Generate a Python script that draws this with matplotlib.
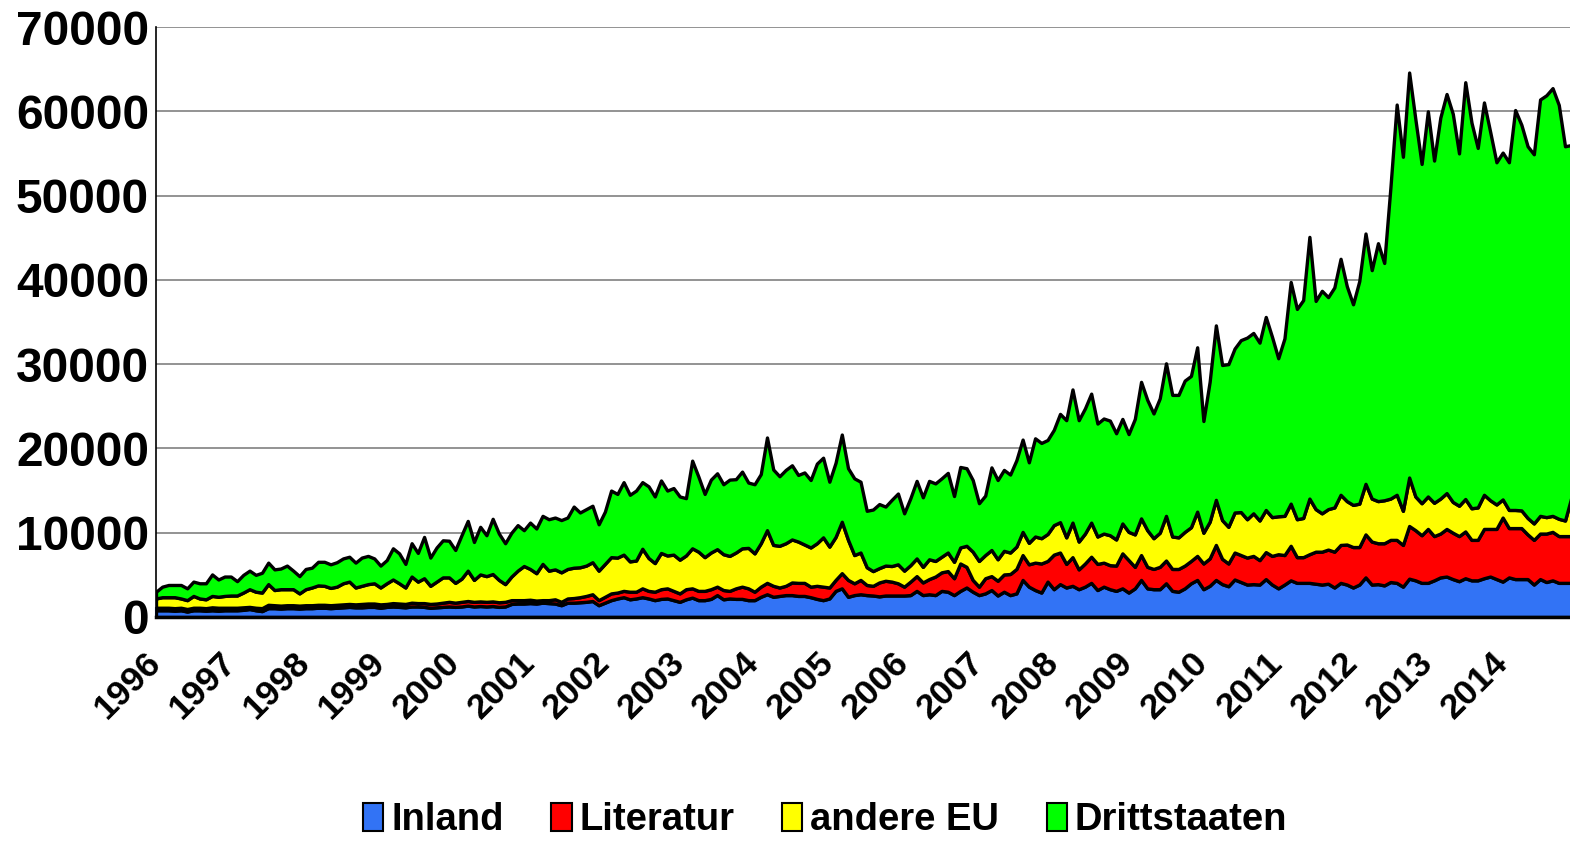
import numpy as np
import matplotlib
matplotlib.use("Agg")
import matplotlib.pyplot as plt
import matplotlib.transforms as mtransforms
from matplotlib.patches import Patch
from matplotlib.ticker import MultipleLocator

# Monatswerte Jan 1996 - Dez 2014, je Zeile ein Jahr
inland = [
    800, 800, 800, 750, 800, 650, 800, 800, 750, 800, 750, 800,
    800, 800, 850, 950, 800, 700, 1050, 1050, 1000, 1050, 1050, 1000,
    1050, 1050, 1100, 1100, 1050, 1100, 1150, 1200, 1150, 1150, 1200, 1200,
    1100, 1200, 1250, 1200, 1150, 1250, 1250, 1200, 1100, 1150, 1200, 1250,
    1200, 1250, 1350, 1250, 1300, 1250, 1300, 1200, 1250, 1550, 1600, 1600,
    1650, 1600, 1700, 1650, 1600, 1400, 1700, 1700, 1750, 1800, 1900, 1400,
    1700, 2000, 2200, 2350, 2100, 2200, 2350, 2200, 2000, 2150, 2200, 2000,
    1800, 2100, 2300, 2000, 2000, 2150, 2600, 2100, 2200, 2150, 2150, 2000,
    2000, 2400, 2700, 2400, 2500, 2600, 2600, 2500, 2500, 2350, 2150, 2000,
    2200, 3100, 3400, 2400, 2600, 2700, 2600, 2550, 2450, 2550, 2550, 2550,
    2550, 2600, 3100, 2600, 2700, 2600, 3100, 3000, 2600, 3100, 3500, 3000,
    2600, 2800, 3200, 2550, 3000, 2600, 2800, 4400, 3600, 3200, 2900, 4200,
    3300, 3900, 3500, 3700, 3300, 3600, 4050, 3200, 3600, 3300, 3100, 3400,
    2900, 3400, 4400, 3400, 3300, 3300, 4000, 3100, 3000, 3400, 4000, 4400,
    3300, 3700, 4400, 3900, 3650, 4450, 4150, 3850, 3900, 3850, 4500, 3850,
    3400, 3850, 4350, 4050, 4050, 4050, 3950, 3850, 3950, 3500, 4050, 3850,
    3500, 3850, 4700, 3850, 3900, 3750, 4150, 4050, 3600, 4550, 4350, 4050,
    4050, 4350, 4700, 4800, 4500, 4250, 4600, 4350, 4350, 4600, 4800, 4500,
    4200, 4700, 4500, 4500, 4500, 3850, 4500, 4150, 4350, 4050, 4050, 4050,
]

literatur = [
    300, 300, 300, 300, 300, 300, 300, 300, 300, 350, 350, 300,
    300, 300, 300, 250, 300, 350, 400, 350, 350, 350, 350, 350,
    350, 350, 350, 350, 350, 350, 350, 350, 350, 400, 400, 400,
    400, 350, 400, 400, 400, 450, 400, 450, 450, 450, 500, 550,
    500, 550, 550, 550, 550, 550, 550, 550, 550, 450, 400, 400,
    400, 350, 300, 350, 500, 400, 500, 550, 600, 700, 800, 600,
    700, 800, 700, 750, 900, 800, 1050, 900, 1000, 1150, 1200, 1100,
    1000, 1200, 1100, 1100, 1100, 1150, 1000, 1100, 900, 1250, 1450, 1400,
    1000, 1200, 1350, 1300, 1000, 1100, 1500, 1550, 1550, 1250, 1550, 1600,
    1300, 1300, 1800, 2000, 1400, 1700, 1200, 1150, 1650, 1750, 1650, 1450,
    1050, 1600, 1750, 1500, 1800, 2200, 2200, 2450, 2000, 3250, 2450, 1400,
    1000, 1800, 1650, 1750, 2050, 2500, 2900, 2950, 2650, 3250, 3450, 2450,
    4100, 3750, 2800, 3400, 2350, 2750, 3100, 3100, 2850, 2850, 3000, 4150,
    3850, 2550, 2950, 2550, 2400, 2650, 2700, 2600, 2700, 2700, 2650, 2850,
    3050, 3250, 4150, 3000, 2700, 3200, 3200, 3200, 3350, 2900, 3200, 3400,
    4050, 3500, 4100, 3050, 3050, 3400, 3800, 3900, 4050, 4250, 4500, 4750,
    4800, 4450, 5100, 5100, 4850, 5000, 5000, 5100, 4950, 6250, 5950, 5650,
    6400, 5250, 5200, 5650, 5500, 5350, 5550, 4800, 4800, 5850, 5650, 5950,
    7600, 5850, 6050, 6050, 5300, 5300, 5400, 5750, 5750, 5550, 5550, 5550,
]

andere_eu = [
    1100, 1250, 1250, 1300, 1100, 1050, 1400, 1100, 1050, 1350, 1300, 1400,
    1450, 1450, 1750, 2100, 1900, 1850, 2450, 1800, 1950, 1900, 1900, 1450,
    1900, 2100, 2300, 2250, 2050, 2150, 2500, 2650, 2000, 2150, 2300, 2400,
    2000, 2450, 2800, 2400, 1950, 3100, 2550, 2950, 2150, 2600, 3000, 2900,
    2350, 2750, 3600, 2600, 3200, 3050, 3250, 2650, 2100, 2800, 3500, 4050,
    3650, 3250, 4300, 3500, 3550, 3500, 3500, 3600, 3550, 3600, 3800, 3500,
    3900, 4300, 4150, 4300, 3600, 3700, 4700, 3900, 3400, 4300, 3900, 4300,
    4000, 4000, 4750, 4650, 4000, 4350, 4450, 4250, 4150, 4250, 4550, 4800,
    4550, 5150, 6250, 4850, 4950, 5050, 5100, 4900, 4550, 4650, 5050, 5850,
    4850, 5100, 6100, 4750, 3350, 3250, 2100, 1750, 1700, 1800, 1850, 2250,
    1900, 1950, 2100, 1850, 2350, 1850, 1850, 2200, 1950, 1900, 2500, 3350,
    3050, 2750, 3100, 2550, 2800, 2550, 2650, 2750, 2550, 3100, 3000, 3200,
    3500, 3600, 3150, 4100, 3300, 3550, 4050, 3250, 3450, 3550, 3100, 3550,
    3350, 3850, 4350, 4350, 3650, 4050, 5300, 3850, 3750, 4000, 4000, 5250,
    3650, 4350, 5350, 4600, 4350, 4750, 5100, 4550, 5050, 4700, 5000, 4600,
    4500, 4650, 5000, 4500, 4650, 6600, 5050, 4550, 4800, 5250, 5950, 5150,
    5000, 5150, 6000, 5100, 5000, 5100, 4900, 5350, 4050, 5750, 4000, 3800,
    3850, 3950, 4150, 4250, 3650, 3600, 3850, 3750, 3850, 4050, 3400, 2900,
    2150, 2150, 2150, 2100, 1950, 1950, 2100, 1950, 1900, 2050, 1850, 4550,
]

drittstaaten = [
    800, 1250, 1450, 1450, 1600, 1400, 1700, 1800, 1900, 2550, 2050, 2300,
    2250, 1700, 2100, 2200, 2000, 2350, 2550, 2450, 2450, 2800, 2200, 2050,
    2400, 2350, 2800, 2850, 2800, 2900, 2950, 2950, 2950, 3350, 3350, 2950,
    2600, 2750, 3700, 3550, 2800, 3950, 3400, 4900, 3350, 4050, 4400, 4350,
    3900, 5150, 5900, 4500, 5650, 4850, 6550, 5500, 4850, 5200, 5400, 4250,
    5500, 5300, 5700, 6100, 6150, 6200, 6100, 7250, 6500, 6700, 6700, 5500,
    6200, 7900, 7550, 8600, 7900, 8300, 7900, 8500, 7900, 8600, 7700, 7900,
    7500, 6800, 10400, 8900, 7500, 8650, 9000, 8300, 9050, 8700, 9100, 7750,
    8200, 8200, 11000, 8950, 8250, 8700, 8800, 7900, 8550, 8000, 9450, 9450,
    7700, 8800, 10350, 8500, 9100, 8400, 6700, 7300, 7600, 7000, 7850, 8400,
    6800, 7950, 9200, 8250, 9300, 9200, 9300, 9450, 7800, 9550, 9200, 8500,
    6850, 7050, 9800, 9400, 9600, 9250, 10250, 10950, 9550, 11650, 11300, 11150,
    11300, 12850, 13900, 15800, 14400, 14850, 15300, 13400, 13650, 13600, 12600, 12400,
    11600, 13700, 16200, 15450, 14800, 15950, 18100, 16800, 16900, 17950, 17950, 19500,
    13250, 16600, 20700, 18400, 19300, 19450, 20400, 21550, 21400, 21100, 22900, 21400,
    18750, 21050, 26300, 24950, 25850, 31050, 24700, 26400, 25150, 26100, 28000, 25500,
    23800, 26400, 29700, 27100, 30600, 28150, 36950, 46300, 42000, 48050, 44750, 40250,
    45700, 40600, 45200, 47350, 46050, 41800, 49450, 45750, 42650, 46550, 43700, 40600,
    41150, 41250, 47450, 45750, 44100, 43800, 49400, 50050, 50750, 49100, 44400, 41850,
]

jahre = [str(j) for j in range(1996, 2015)]
reihen = ["Inland", "Literatur", "andere EU", "Drittstaaten"]
farben = ["#3273F5", "#FF0000", "#FFFF00", "#00FF00"]

plt.rcParams['font.family'] = ['Liberation Sans', 'DejaVu Sans']
plt.rcParams['font.weight'] = 'bold'

fig = plt.figure(figsize=(15.7, 8.42), dpi=100)
ax = fig.add_axes([156 / 1570, (842 - 617) / 842, (1570 - 156) / 1570, 590 / 842])

monate = np.arange(len(inland))
ax.stackplot(monate, inland, literatur, andere_eu, drittstaaten,
             colors=farben, edgecolor='black', linewidth=2.4)

ax.set_xlim(0, 226.8)
ax.set_ylim(0, 70000)

# Achsen
ax.set_yticks(np.arange(0, 70001, 10000))
ax.set_yticklabels([str(v) for v in range(0, 70001, 10000)], fontsize=34.5, fontweight='bold')
ax.xaxis.set_major_locator(MultipleLocator(12))
ax.xaxis.set_minor_locator(MultipleLocator(1))
ax.set_xticklabels([])
ax.tick_params(axis='x', which='both', direction='in', length=7, width=1.5,
               color='#1d3c8a')
ax.tick_params(axis='y', length=0, pad=5)

# Jahreszahlen schraeg unter der Achse
verschiebung = mtransforms.ScaledTranslation(-12 / 100, -29 / 100, fig.dpi_scale_trans)
for k, jahr in enumerate(jahre):
    ax.text(k * 12, 0, jahr, transform=ax.get_xaxis_transform() + verschiebung,
            fontsize=25.5, fontweight='bold', rotation=45, ha='right', va='top',
            rotation_mode='anchor', clip_on=False)

ax.set_axisbelow(True)
ax.yaxis.grid(True, color='#808080', linewidth=1.2)
ax.spines['top'].set_visible(False)
ax.spines['right'].set_visible(False)
ax.spines['left'].set_linewidth(1.2)
ax.spines['bottom'].set_linewidth(2.5)

# Legende unten
griffe = [Patch(facecolor=f, edgecolor='black', linewidth=1.5) for f in farben]
fig.legend(griffe, reihen, loc='center', bbox_to_anchor=(0.5255, (842 - 820.5) / 842),
           ncol=4, frameon=False, prop={'size': 27.5, 'weight': 'bold'},
           handlelength=0.53, handleheight=0.75, handletextpad=0.2, columnspacing=1.25)

fig.savefig('out.png', dpi=100)
